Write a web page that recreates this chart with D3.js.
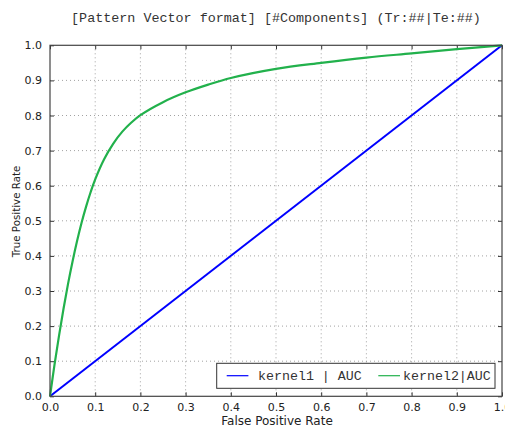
<!DOCTYPE html>
<html><head><meta charset="utf-8">
<script src="https://cdn.jsdelivr.net/npm/d3@7"></script>
<style>body{margin:0;background:#fff}svg{display:block}</style>
</head><body>
<svg id="c" width="505" height="425"></svg>
<script>
const titleText = "[Pattern Vector format] [#Components] (Tr:##|Te:##)";
const xLabel = "False Positive Rate";
const yLabel = "True Positive Rate";
const ticks = [0,0.1,0.2,0.3,0.4,0.5,0.6,0.7,0.8,0.9,1.0];
const seriesNames = ["kernel1 | AUC", "kernel2|AUC"];
const seriesColors = ["#0000ff", "#22b14c"];
const kernel1Fpr = [0, 1];
const kernel1Tpr = [0, 1];
const kernel2Fpr = [0, 0.01, 0.02, 0.03, 0.04, 0.05, 0.06, 0.07, 0.08, 0.09, 0.10, 0.12, 0.14, 0.16, 0.18, 0.20, 0.25, 0.30, 0.35, 0.40, 0.50, 0.60, 0.70, 0.80, 0.90, 1.00];
const kernel2Tpr = [0, 0.09, 0.173, 0.25, 0.321, 0.385, 0.443, 0.495, 0.541, 0.582, 0.618, 0.676, 0.72, 0.754, 0.78, 0.801, 0.838, 0.866, 0.888, 0.907, 0.933, 0.95, 0.965, 0.977, 0.989, 1.0];

const svg = d3.select("#c");
const L = 50, R = 502, T = 45.3, B = 396.3;
const x = d3.scaleLinear().domain([0,1]).range([L,R]);
const y = d3.scaleLinear().domain([0,1]).range([B,T]);

// grid
const g = svg.append("g");
g.selectAll(".vg").data(ticks.slice(1,-1)).enter().append("line")
  .attr("x1", d=>x(d)).attr("x2", d=>x(d)).attr("y1", T).attr("y2", B)
  .attr("stroke", "#8a8a8a").attr("stroke-width", 0.8).attr("stroke-dasharray", "1,3");
g.selectAll(".hg").data(ticks.slice(1,-1)).enter().append("line")
  .attr("y1", d=>y(d)).attr("y2", d=>y(d)).attr("x1", L).attr("x2", R)
  .attr("stroke", "#8a8a8a").attr("stroke-width", 0.8).attr("stroke-dasharray", "1,3");

// axes
const fontSans = "DejaVu Sans";
const xAxis = d3.axisBottom(x).tickValues(ticks).tickFormat(d3.format(".1f")).tickSizeInner(-4).tickSizeOuter(0).tickPadding(7);
const yAxis = d3.axisLeft(y).tickValues(ticks).tickFormat(d3.format(".1f")).tickSizeInner(-4).tickSizeOuter(0).tickPadding(8);
const xTop = d3.axisTop(x).tickValues(ticks).tickFormat("").tickSizeInner(-4).tickSizeOuter(0);
const yRight = d3.axisRight(y).tickValues(ticks).tickFormat("").tickSizeInner(-4).tickSizeOuter(0);

function style(sel){
  sel.select(".domain").remove();
  sel.selectAll(".tick line").attr("stroke", "#333").attr("stroke-width", 1);
  sel.selectAll("text").attr("font-family", fontSans).attr("font-size", 11).attr("fill", "#222");
}
svg.append("g").attr("transform", `translate(0,${B})`).call(xAxis).call(style);
svg.append("g").attr("transform", `translate(${L},0)`).call(yAxis).call(style);
svg.append("g").attr("transform", `translate(0,${T})`).call(xTop).call(style);
svg.append("g").attr("transform", `translate(${R},0)`).call(yRight).call(style);

// lines
svg.append("clipPath").attr("id","cp").append("rect")
  .attr("x", L-2).attr("y", T-2).attr("width", R-L+4).attr("height", B-T+4);
const line = d3.line().x(d=>x(d[0])).y(d=>y(d[1])).curve(d3.curveCatmullRom.alpha(0.5));
const k1 = kernel1Fpr.map((f,i)=>[f, kernel1Tpr[i]]);
const k2 = kernel2Fpr.map((f,i)=>[f, kernel2Tpr[i]]);
svg.append("path").datum(k1).attr("d", line).attr("fill","none")
  .attr("stroke", seriesColors[0]).attr("stroke-width", 2).attr("clip-path","url(#cp)");
svg.append("path").datum(k2).attr("d", line).attr("fill","none")
  .attr("stroke", seriesColors[1]).attr("stroke-width", 2.2).attr("clip-path","url(#cp)");

// frame
svg.append("rect").attr("x", L).attr("y", T).attr("width", R-L).attr("height", B-T)
  .attr("fill","none").attr("stroke","#444").attr("stroke-width", 1.2);

// title
const fontMono = "Liberation Mono";
svg.append("text").attr("x", (L+R)/2).attr("y", 22).attr("text-anchor","middle")
  .attr("font-family", fontMono).attr("font-size", 13.4).attr("fill","#333").text(titleText);

// axis labels
svg.append("text").attr("x", 277).attr("y", 424.5).attr("text-anchor","middle")
  .attr("font-family", fontSans).attr("font-size", 12).attr("fill","#222").text(xLabel);
svg.append("text").attr("transform", `translate(20,211.5) rotate(-90)`).attr("text-anchor","middle")
  .attr("font-family", fontSans).attr("font-size", 10.3).attr("fill","#222").text(yLabel);

// legend
const lg = svg.append("g");
lg.append("rect").attr("x", 216.7).attr("y", 363.3).attr("width", 495-216.7).attr("height", 25)
  .attr("fill","#fff").attr("stroke","#333").attr("stroke-width", 1);
const legX = [226.7, 378.3];
seriesNames.forEach((n,i)=>{
  lg.append("line").attr("x1", legX[i]).attr("x2", legX[i]+21.7).attr("y1", 375.7).attr("y2", 375.7)
    .attr("stroke", seriesColors[i]).attr("stroke-width", 1.2);
  lg.append("text").attr("x", legX[i]+ (i===0?31.3:24.7)).attr("y", 380.2)
    .attr("font-family", fontMono).attr("font-size", 13.3).attr("fill","#333").text(n);
});
</script>
</body></html>
